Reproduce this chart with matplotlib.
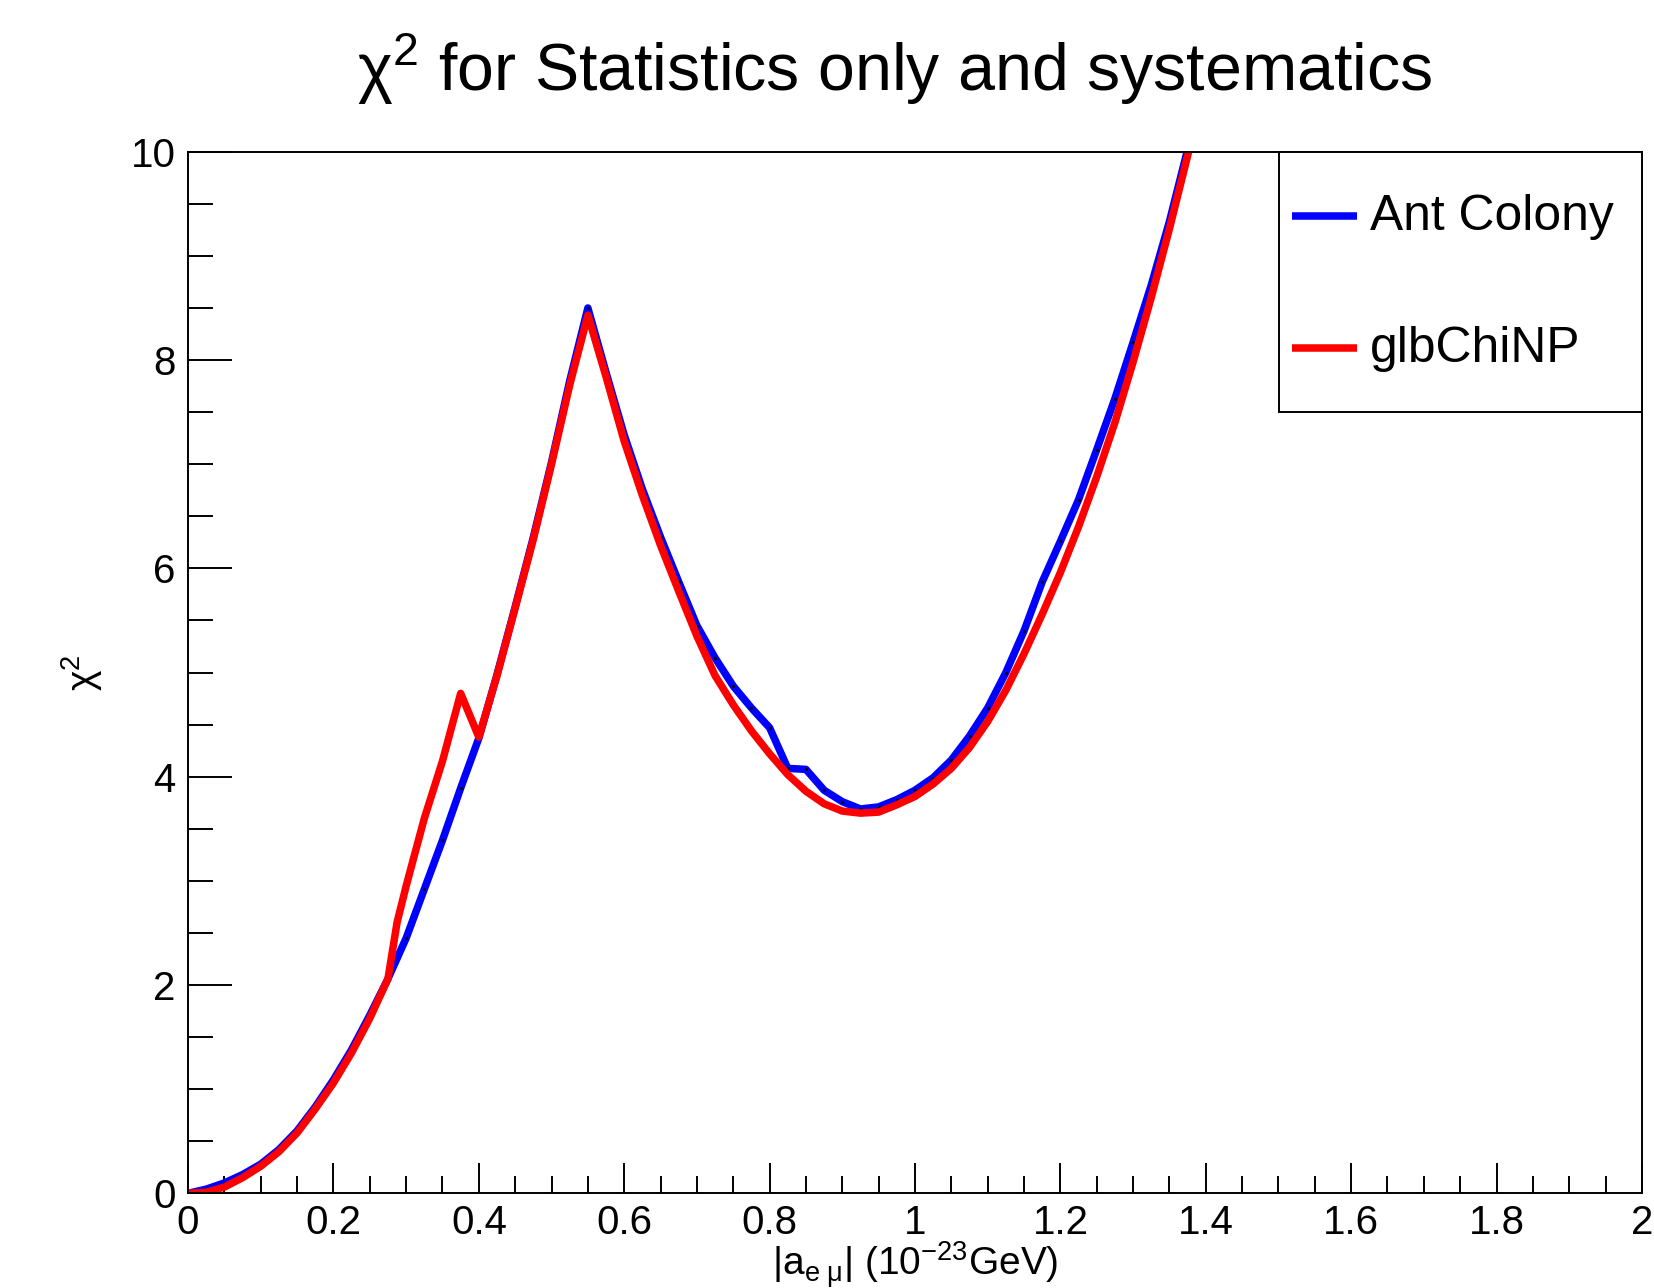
import matplotlib.pyplot as plt
from matplotlib.patches import Rectangle
from matplotlib.ticker import MultipleLocator, FormatStrFormatter

# ---------------------------------------------
# chi2 scan: Ant Colony vs glbChiNP
# ---------------------------------------------

ant_x = [0.0, 0.025, 0.05, 0.075, 0.1, 0.125, 0.15, 0.175, 0.2, 0.225,
         0.25, 0.275, 0.3, 0.325, 0.35, 0.375, 0.4, 0.425, 0.45, 0.475,
         0.5, 0.525, 0.55, 0.575, 0.6, 0.625, 0.65, 0.675, 0.7, 0.725,
         0.75, 0.775, 0.8, 0.825, 0.85, 0.875, 0.9, 0.925, 0.95, 0.975,
         1.0, 1.025, 1.05, 1.075, 1.1, 1.125, 1.15, 1.175, 1.2, 1.225,
         1.25, 1.275, 1.3, 1.325, 1.35, 1.375, 1.4]
ant_chi2 = [0.00, 0.04, 0.10, 0.18, 0.28, 0.42, 0.60, 0.83, 1.09, 1.38,
            1.71, 2.06, 2.45, 2.92, 3.39, 3.89, 4.37, 4.98, 5.63, 6.30,
            7.02, 7.80, 8.50, 7.88, 7.28, 6.76, 6.30, 5.87, 5.45, 5.14,
            4.87, 4.66, 4.47, 4.08, 4.07, 3.87, 3.76, 3.69, 3.71, 3.78,
            3.87, 3.99, 4.16, 4.39, 4.66, 5.00, 5.40, 5.87, 6.26, 6.66,
            7.14, 7.63, 8.17, 8.72, 9.33, 10.02, 10.70]

glb_x = [0.0, 0.025, 0.05, 0.075, 0.1, 0.125, 0.15, 0.175, 0.2, 0.225,
         0.25, 0.275, 0.2875, 0.3, 0.325, 0.35, 0.375, 0.4, 0.425, 0.45,
         0.475, 0.5, 0.525, 0.55, 0.575, 0.6, 0.625, 0.65, 0.675, 0.7,
         0.725, 0.75, 0.775, 0.8, 0.825, 0.85, 0.875, 0.9, 0.925, 0.95,
         0.975, 1.0, 1.025, 1.05, 1.075, 1.1, 1.125, 1.15, 1.175, 1.2,
         1.225, 1.25, 1.275, 1.3, 1.325, 1.35, 1.375, 1.4]
glb_chi2 = [0.00, 0.01, 0.06, 0.15, 0.26, 0.40, 0.58, 0.81, 1.06, 1.35,
            1.68, 2.06, 2.60, 2.95, 3.60, 4.15, 4.80, 4.38, 4.97, 5.62,
            6.28, 7.00, 7.76, 8.43, 7.84, 7.22, 6.70, 6.22, 5.78, 5.35,
            4.97, 4.69, 4.44, 4.22, 4.02, 3.86, 3.74, 3.67, 3.65, 3.66,
            3.73, 3.81, 3.93, 4.08, 4.28, 4.53, 4.83, 5.18, 5.56, 5.96,
            6.40, 6.88, 7.40, 7.98, 8.60, 9.26, 9.96, 10.70]

labels = ["Ant Colony", "glbChiNP"]
colors = ["#0000ff", "#ff0000"]

plt.rcParams['font.family'] = ['Liberation Sans', 'DejaVu Sans']
plt.rcParams['mathtext.fontset'] = 'custom'
plt.rcParams['mathtext.rm'] = 'Liberation Sans'
plt.rcParams['mathtext.it'] = 'Liberation Sans:italic'
plt.rcParams['mathtext.default'] = 'regular'

fig = plt.figure(figsize=(16.54, 12.88), dpi=100)
ax = fig.add_axes([0.1137, 0.0735, 0.879, 0.8087])

lw = 5.4
ax.plot(ant_x, ant_chi2, color=colors[0], lw=lw, marker='o', ms=1.2,
        mfc='black', mec='black')
ax.plot(glb_x, glb_chi2, color=colors[1], lw=lw)

ax.set_xlim(0, 2)
ax.set_ylim(0, 10)

# ROOT style ticks: inside, bottom/left only
ax.xaxis.set_major_locator(MultipleLocator(0.2))
ax.xaxis.set_minor_locator(MultipleLocator(0.05))
ax.yaxis.set_major_locator(MultipleLocator(2))
ax.yaxis.set_minor_locator(MultipleLocator(0.5))
ax.xaxis.set_major_formatter(FormatStrFormatter('%g'))
ax.yaxis.set_major_formatter(FormatStrFormatter('%g'))
ax.tick_params(axis='x', which='major', direction='in', length=21.5,
               width=1.4, labelsize=29, pad=8)
ax.tick_params(axis='x', which='minor', direction='in', length=12, width=1.4)
ax.tick_params(axis='y', which='major', direction='in', length=32,
               width=1.4, labelsize=29, pad=9)
ax.tick_params(axis='y', which='minor', direction='in', length=18, width=1.4)
ax.tick_params(which='both', top=False, right=False)
for sp in ax.spines.values():
    sp.set_linewidth(1.4)

ax.set_title(r"χ$^{2}$ for Statistics only and systematics", fontsize=47.7,
             x=0.486, y=1.058, va='baseline', pad=0)

ax.set_xlabel(r"|a$_{e\ \mu}$| (10$^{-23}$GeV)", fontsize=28)
ax.xaxis.set_label_coords(0.5, -0.0795)
ax.xaxis.label.set_va('baseline')

ax.set_ylabel(r"χ$^{2}$", fontsize=28)
ax.yaxis.set_label_coords(-0.073, 0.5)
ax.yaxis.label.set_va('center')

# legend box (top right corner, ROOT TLegend look)
ax.add_patch(Rectangle((0.7503, 0.7504), 0.2497, 0.2496, transform=ax.transAxes,
                       facecolor='white', edgecolor='black', lw=1.4,
                       zorder=5, clip_on=False))
for lab, col, ly, ty in zip(labels, colors, [0.9385, 0.8112], [0.9248, 0.7984]):
    ax.plot([0.7591, 0.8042], [ly, ly], color=col, lw=lw,
            transform=ax.transAxes, zorder=6, solid_capstyle='butt')
    ax.text(0.8129, ty, lab, fontsize=35.8, va='baseline', ha='left',
            transform=ax.transAxes, zorder=6)

fig.savefig("out.png", dpi=100)
